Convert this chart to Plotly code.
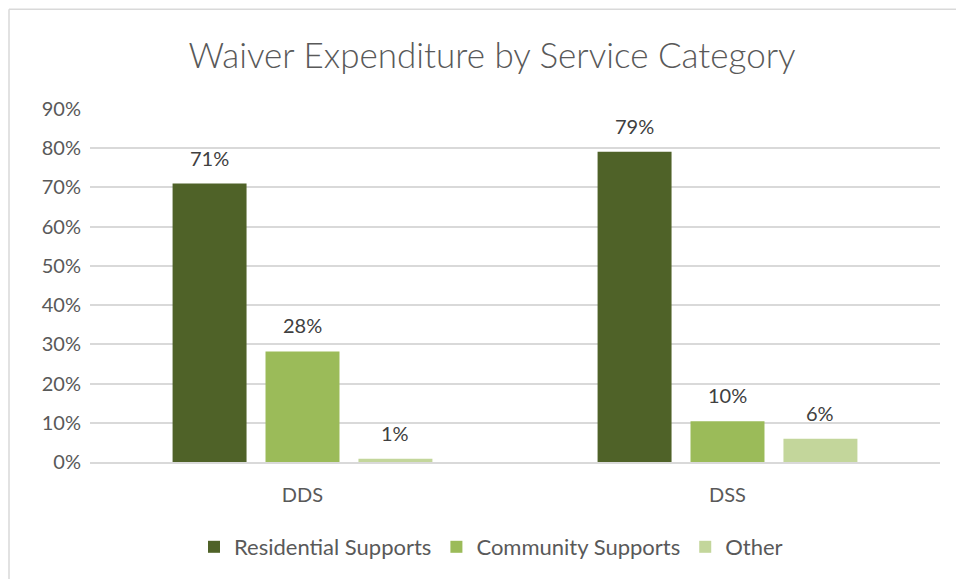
import plotly.graph_objects as go

categories = ["DDS", "DSS"]
series_names = ["Residential Supports", "Community Supports", "Other"]
residential = [71, 79.1]
community = [28.2, 10.4]
other = [0.8, 5.9]
labels_residential = ["71%", "79%"]
labels_community = ["28%", "10%"]
labels_other = ["1%", "6%"]
colors = ["#4F6228", "#9BBB59", "#C3D69B"]
y_ticks = [0, 10, 20, 30, 40, 50, 60, 70, 80, 90]
y_tick_labels = [f"{v}%" for v in y_ticks]

FONT = "Lato, Open Sans, sans-serif"
W, H = 956, 579
L, R, T, B = 90, 16, 109, 116
pw, ph = W - L - R, H - T - B
BARGAP = 0.344

fig = go.Figure()
all_vals = [residential, community, other]
all_labels = [labels_residential, labels_community, labels_other]
for name, vals, col in zip(series_names, all_vals, colors):
    fig.add_trace(go.Bar(name=name, x=categories, y=vals, marker=dict(color=col, line=dict(width=0)),
                         offsetgroup=name))

# data labels as annotations placed above each bar
annotations = []
nser = len(series_names)
for si, (vals, labs) in enumerate(zip(all_vals, all_labels)):
    for ci, (v, lab) in enumerate(zip(vals, labs)):
        slot = (1 - BARGAP) / nser
        xoff = (si - (nser - 1) / 2) * slot
        annotations.append(dict(x=ci + xoff, y=v, xref="x", yref="y", text=lab, showarrow=False,
                                yshift=26, font=dict(family=FONT, size=20, color="#404040")))

def px_x(p):
    return (p - L) / pw

def px_y(p):
    return (H - B - p) / ph

shapes = [
    dict(type="line", xref="paper", yref="paper", x0=px_x(9), x1=px_x(970), y0=px_y(9), y1=px_y(9),
         line=dict(color="#D9D9D9", width=1.5)),
    dict(type="line", xref="paper", yref="paper", x0=px_x(9), x1=px_x(9), y0=px_y(9), y1=px_y(600),
         line=dict(color="#D9D9D9", width=1.5)),
]

fig.update_layout(
    width=W, height=H,
    margin=dict(l=L, r=R, t=T, b=B),
    paper_bgcolor="white", plot_bgcolor="white",
    barmode="group", bargap=BARGAP, bargroupgap=0.204,
    title=dict(text="Waiver Expenditure by Service Category", xref="container", x=492 / W,
               xanchor="center", y=1 - 56 / H, yanchor="middle",
               font=dict(family=FONT, size=35, color="#595959", weight=300)),
    font=dict(family=FONT, size=20, color="#595959"),
    xaxis=dict(type="category", showgrid=False, showline=True, linecolor="#D9D9D9", linewidth=1.5,
               ticks="outside", ticklen=14, tickcolor="rgba(0,0,0,0)",
               tickfont=dict(family=FONT, size=20, color="#595959"), range=[-0.5, 1.5]),
    yaxis=dict(range=[0, 90], tickvals=y_ticks, ticktext=y_tick_labels, showgrid=True,
               gridcolor="#D9D9D9", gridwidth=1.5, zeroline=False, showline=False,
               ticks="outside", ticklen=4, tickcolor="rgba(0,0,0,0)",
               tickfont=dict(family=FONT, size=20, color="#595959")),
    legend=dict(orientation="h", x=px_x(491), xanchor="center", y=px_y(547), yanchor="middle",
                font=dict(family=FONT, size=22, color="#595959"), itemwidth=30,
                traceorder="normal"),
    annotations=annotations,
    shapes=shapes,
)

fig.write_html("out.html", config={"displayModeBar": False},
               post_script="document.body.style.margin='0';")
